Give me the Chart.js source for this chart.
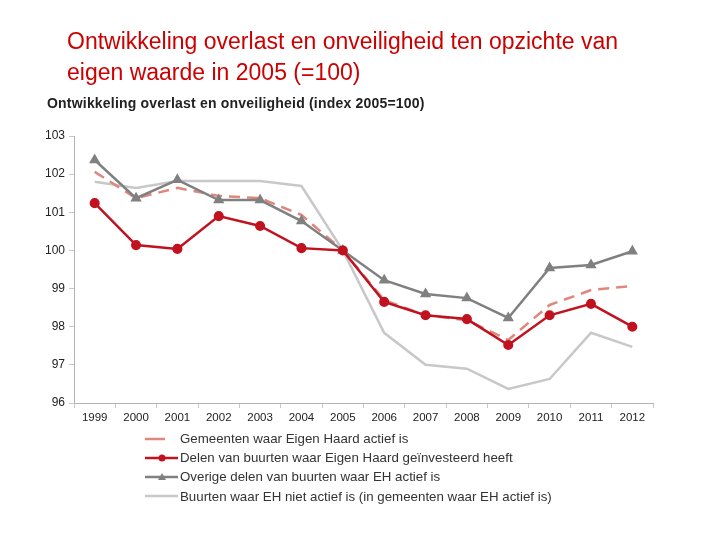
<!DOCTYPE html>
<html>
<head>
<meta charset="utf-8">
<script src="https://cdn.jsdelivr.net/npm/chart.js@4/dist/chart.umd.min.js"></script>
<style>
  html,body{margin:0;padding:0;background:#fff;}
  #wrap{position:relative;width:720px;height:540px;overflow:hidden;font-family:"Liberation Sans",Arial,sans-serif;}
  #title{position:absolute;left:67px;top:26px;font-size:23px;line-height:31px;color:#cc0000;}
  #sub{position:absolute;left:47px;top:95px;font-size:14px;font-weight:bold;color:#222;letter-spacing:0.2px;}
  #chart{position:absolute;left:0;top:0;}
  #legend{position:absolute;left:145px;top:429px;font-size:13.3px;color:#333;}
  .row{height:19.2px;display:flex;align-items:center;white-space:nowrap;}
  .row svg{margin-right:1px;}
</style>
</head>
<body>
<div id="wrap">
  <canvas id="chart" width="720" height="540"></canvas>
  <div id="title">Ontwikkeling overlast en onveiligheid ten opzichte van<br>eigen waarde in 2005 (=100)</div>
  <div id="sub">Ontwikkeling overlast en onveiligheid (index 2005=100)</div>
  <div id="legend"></div>
</div>
<script>
const years = ["1999","2000","2001","2002","2003","2004","2005","2006","2007","2008","2009","2010","2011","2012"];
const seriesNames = [
  "Gemeenten waar Eigen Haard actief is",
  "Delen van buurten waar Eigen Haard geïnvesteerd heeft",
  "Overige delen van buurten waar EH actief is",
  "Buurten waar EH niet actief is (in gemeenten waar EH actief is)"
];
const gemeenten = [102.06, 101.37, 101.64, 101.43, 101.37, 100.93, 100.0, 98.7, 98.3, 98.17, 97.65, 98.57, 98.96, 99.07];
const delen     = [101.24, 100.14, 100.04, 100.9, 100.64, 100.06, 100.0, 98.65, 98.3, 98.2, 97.52, 98.3, 98.6, 98.0];
const overige   = [102.37, 101.37, 101.85, 101.32, 101.32, 100.77, 100.0, 99.22, 98.86, 98.75, 98.23, 99.54, 99.62, 99.98];
const buurten   = [101.8, 101.64, 101.82, 101.82, 101.82, 101.69, 100.0, 97.84, 97.0, 96.9, 96.37, 96.63, 97.84, 97.47];
const yTicks = [96, 97, 98, 99, 100, 101, 102, 103];

const C_DASH = "#e0877c", C_RED = "#c1121f", C_GRAY = "#808080", C_LIGHT = "#c8c8c8";

new Chart(document.getElementById("chart"), {
  type: "line",
  data: {
    labels: years,
    datasets: [
      {label: seriesNames[0], data: gemeenten, borderColor: C_DASH, backgroundColor: C_DASH, borderWidth: 2.5, borderDash: [11, 7], pointRadius: 0, tension: 0, order: 2},
      {label: seriesNames[1], data: delen, borderColor: C_RED, backgroundColor: C_RED, borderWidth: 2.5, pointRadius: 3.8, pointStyle: "circle", tension: 0, order: 0},
      {label: seriesNames[2], data: overige, borderColor: C_GRAY, backgroundColor: C_GRAY, borderWidth: 2.5, pointRadius: 4, pointStyle: "triangle", tension: 0, order: 1},
      {label: seriesNames[3], data: buurten, borderColor: C_LIGHT, backgroundColor: C_LIGHT, borderWidth: 2.5, pointRadius: 0, tension: 0, order: 3}
    ]
  },
  options: {
    responsive: false,
    animation: false,
    layout: {padding: {left: 0, right: 67, top: 136, bottom: 0}},
    plugins: {legend: {display: false}, title: {display: false}, tooltip: {enabled: false}},
    scales: {
      x: {
        offset: true,
        grid: {display: true, drawOnChartArea: false, drawTicks: true, tickLength: 5, color: "#c8c8c8", offset: true},
        border: {display: true, color: "#b4b4b4"},
        ticks: {color: "#222", font: {family: "Liberation Sans", size: 11.5}, padding: 3, maxRotation: 0, autoSkip: false},
        afterFit: s => { s.height = 137; }
      },
      y: {
        min: 96, max: 103,
        afterBuildTicks: s => { s.ticks = yTicks.map(v => ({value: v})); },
        grid: {display: true, drawOnChartArea: false, drawTicks: true, tickLength: 5, color: "#c8c8c8"},
        border: {display: true, color: "#b4b4b4"},
        ticks: {color: "#222", font: {family: "Liberation Sans", size: 12}, padding: 4},
        afterFit: s => { s.width = 74; }
      }
    }
  }
});

// HTML legend
const styles = [
  {c: C_DASH, dash: true, mark: null},
  {c: C_RED, dash: false, mark: "circle"},
  {c: C_GRAY, dash: false, mark: "tri"},
  {c: C_LIGHT, dash: false, mark: null}
];
const lg = document.getElementById("legend");
seriesNames.forEach((n, i) => {
  const s = styles[i];
  let line = s.dash
    ? `<line x1="0" y1="5" x2="20" y2="5" stroke="${s.c}" stroke-width="2.5"/>`
    : `<line x1="0" y1="5" x2="33" y2="5" stroke="${s.c}" stroke-width="2.5"/>`;
  if (s.mark === "circle") line += `<circle cx="17" cy="5" r="3.5" fill="${s.c}"/>`;
  if (s.mark === "tri") line += `<polygon points="17,1 21,8 13,8" fill="${s.c}"/>`;
  const row = document.createElement("div");
  row.className = "row";
  row.innerHTML = `<svg width="34" height="10">${line}</svg><span>${n}</span>`;
  lg.appendChild(row);
});
</script>
</body>
</html>
